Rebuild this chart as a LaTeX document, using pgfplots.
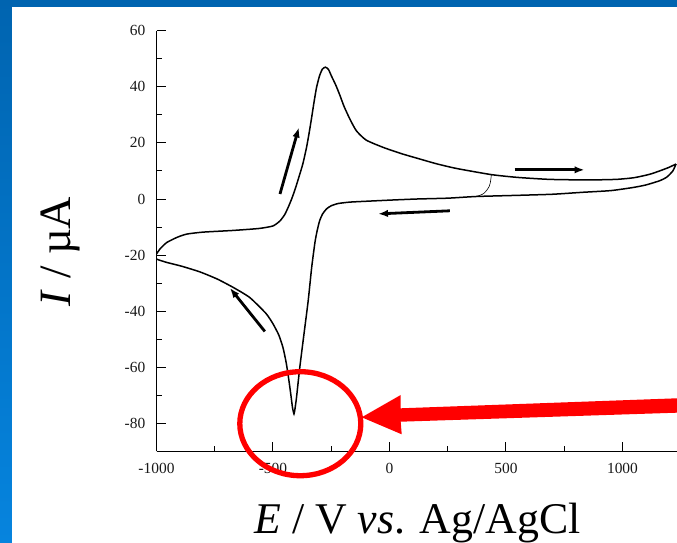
\documentclass[border=0pt]{standalone}
\usepackage{fontspec}
\setmainfont{Liberation Serif}
\usepackage{pgfplots}
\pgfplotsset{compat=1.18}
\usetikzlibrary{arrows.meta}
\definecolor{slideA}{RGB}{0,100,176}
\definecolor{slideB}{RGB}{6,132,222}
\begin{document}
\begin{tikzpicture}
\useasboundingbox (0bp,0bp) rectangle (677bp,543bp);
\shade[top color=slideA, bottom color=slideB] (0bp,0bp) rectangle (677bp,543bp);
\fill[white] (12bp,0bp) rectangle (677bp,535.7bp);
\begin{axis}[
  at={(156.5bp,91.5bp)}, anchor=south west,
  scale only axis, width=520.5bp, height=420.8bp,
  xmin=-1000, xmax=1234, ymin=-90, ymax=60,
  axis x line*=bottom, axis y line*=left,
  axis line style={line width=1.2bp, black},
  tick align=inside,
  major tick length=9bp, minor tick length=5bp,
  tick style={line width=1bp, black},
  xtick={-1000,-500,0,500,1000},
  xticklabels={-1000,-500,0,500,1000},
  ytick={-80,-60,-40,-20,0,20,40,60},
  yticklabels={-80,-60,-40,-20,0,20,40,60},
  minor x tick num=1, minor y tick num=1,
  ticklabel style={font=\fontsize{15.5}{18}\selectfont, text=black!90},
  xticklabel style={inner sep=0pt, anchor=north, yshift=-11.5bp},
  yticklabel style={inner sep=0pt, anchor=east, xshift=-11bp},
]
\addplot[black, line width=1.5bp, smooth, tension=0.35] coordinates {
(1230,12.5) (1216,10.0) (1190,7.8) (1159,6.5) (1100,5.0) (1045,4.1)
(950,3.0) (830,2.4) (700,1.7) (545,1.3) (373,0.9) (250,0.3) (116,0.0)
(0,-0.4) (-100,-0.8) (-170,-1.1) (-220,-1.6) (-250,-2.4) (-270,-3.5)
(-287,-5.3) (-300,-7.8) (-311,-11.5) (-320,-15.5) (-334,-24.4)
(-349,-36.3) (-367,-48.1) (-385,-60.0) (-399,-70.7) (-406,-75.0)
(-410,-76.6) (-416,-74.5) (-423,-70.0) (-432,-64.5) (-443,-58.5)
(-457,-53.0) (-475,-48.5) (-500,-44.5) (-530,-40.8) (-600,-35.1)
(-671,-31.5) (-740,-28.5) (-813,-26.0) (-890,-24.0) (-956,-22.6)
(-1000,-21.4) (-1006,-20.5)
(-1000,-19.6) (-985,-17.8) (-956,-15.5) (-910,-13.6) (-870,-12.5)
(-800,-11.8) (-671,-11.2) (-560,-10.5) (-500,-9.6) (-470,-7.8)
(-450,-5.6) (-435,-3.0) (-420,0.0) (-405,3.5) (-390,7.5) (-372,12.5)
(-356,18.4) (-345,23.5) (-334,29.1) (-323,35.0) (-313,39.8)
(-300,44.0) (-288,46.3) (-275,47.0) (-262,46.2) (-250,44.0)
(-230,40.5) (-213,37.0) (-195,33.0) (-170,28.5) (-142,24.3)
(-100,21.0) (-27,18.4) (50,16.2) (116,14.6) (200,12.6) (287,10.9)
(437,8.7) (550,7.7) (687,7.0) (850,6.8) (973,7.0) (1050,7.6)
(1116,8.8) (1159,10.0) (1200,11.3) (1230,12.5)
};
\addplot[black, line width=0.6bp, smooth] coordinates {
(373,0.9) (405,2.0) (428,4.5) (435,7.0) (437,8.7)
};
\draw[line width=2.8bp, -{Latex[length=10bp,width=7.5bp]}] (axis cs:-470,1.8) -- (axis cs:-389,25.5);
\draw[line width=2.8bp, -{Latex[length=10bp,width=7.5bp]}] (axis cs:-535,-47.2) -- (axis cs:-685,-31.7);
\draw[line width=2.8bp, -{Latex[length=10bp,width=7.5bp]}] (axis cs:537,10.4) -- (axis cs:837,10.4);
\draw[line width=2.8bp, -{Latex[length=10bp,width=7.5bp]}] (axis cs:259,-4.2) -- (axis cs:-49,-5.3);
\end{axis}
\draw[red, line width=5.3bp] (300.3bp,119.3bp) ellipse [x radius=60.5bp, y radius=52bp];
\fill[red] (361.7bp,125.7bp) -- (400.7bp,148bp) -- (400.7bp,134.7bp) -- (677bp,144.7bp)
  -- (677bp,130.3bp) -- (400.7bp,121.3bp) -- (401.7bp,108.7bp) -- cycle;
\node[anchor=base, inner sep=0pt, font=\fontsize{44}{50}\selectfont] at (417.5bp,10bp)
  {\textit{E} / V \textit{vs}. Ag/AgCl};
\node[anchor=base, rotate=90, inner sep=0pt, font=\fontsize{45}{50}\selectfont] at (70bp,291.5bp)
  {\textit{I} / µA};
\end{tikzpicture}
\end{document}
